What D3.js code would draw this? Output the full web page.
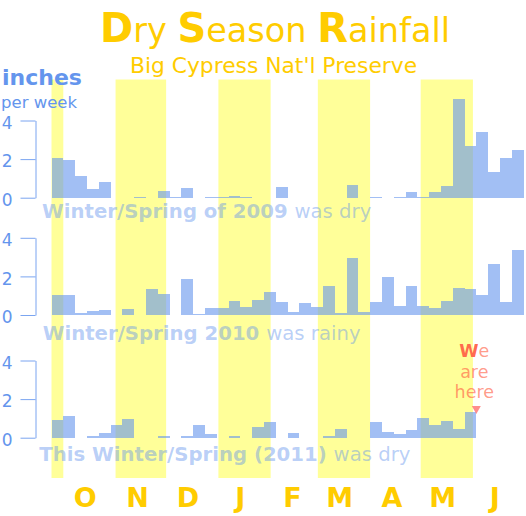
<!DOCTYPE html>
<html>
<head>
<meta charset="utf-8">
<script src="https://cdn.jsdelivr.net/npm/d3@7"></script>
<style>
  html, body { margin: 0; padding: 0; background: #fff; }
  svg { display: block; font-family: "DejaVu Sans", Verdana, sans-serif; }
</style>
</head>
<body>
<svg id="chart" width="526" height="516"></svg>
<script>
// ---- data ----
const weekStarts = ["09-24","10-01","10-08","10-15","10-22","10-29","11-05","11-12","11-19","11-26",
  "12-03","12-10","12-17","12-24","12-31","01-07","01-14","01-21","01-28","02-04",
  "02-11","02-18","02-25","03-04","03-11","03-18","03-25","04-01","04-08","04-15",
  "04-22","04-29","05-06","05-13","05-20","05-27","06-03","06-10","06-17","06-24"];

const rain2009 = [2.07,1.95,1.12,0.45,0.82,0,0,0.04,0,0.33,
  0.06,0.48,0,0.04,0.04,0.07,0.04,0,0,0.55,
  0,0,0,0,0,0.64,0,0.04,0,0.04,
  0.3,0.04,0.3,0.6,5.11,2.68,3.4,1.35,2.06,2.47];

const rain2010 = [1.04,1.04,0.1,0.21,0.26,0,0.31,0,1.35,1.09,
  0,1.87,0.05,0.36,0.36,0.73,0.41,0.78,1.19,0.67,
  0.16,0.62,0.41,1.5,0.1,2.95,0.16,0.67,1.97,0.47,
  1.5,0.47,0.36,0.73,1.4,1.35,1.04,2.64,0.67,3.37];

const rain2011 = [0.92,1.12,0,0.09,0.24,0.66,0.97,0,0,0.09,
  0,0.09,0.66,0.19,0,0.09,0,0.55,0.81,0,
  0.24,0,0,0.09,0.45,0,0,0.81,0.29,0.19,
  0.4,1.02,0.66,0.86,0.45,1.33];

const monthStarts = ["09-01","10-01","11-01","12-01","01-01","02-01","03-01","04-01","05-01","06-01","07-01"];
const monthLabels = ["O","N","D","J","F","M","A","M","J"];   // Oct .. Jun
const shadedMonths = ["09-01","11-01","01-01","03-01","05-01"];
const yTicks = [0, 2, 4];

const captionsBold = ["Winter/Spring of 2009", "Winter/Spring 2010", "This Winter/Spring (2011)"];
const captionsRest = ["was dry", "was rainy", "was dry"];

// ---- helpers ----
const toDate = s => {
  const m = +s.slice(0, 2);
  return d3.utcParse("%Y-%m-%d")((m >= 7 ? "2010-" : "2011-") + s);
};
const weeks = weekStarts.map(toDate);
const domainStart = weeks[0];
const domainEnd = d3.utcDay.offset(weeks[weeks.length - 1], 7);

const svg = d3.select("#chart");
const x = d3.scaleUtc().domain([domainStart, domainEnd]).range([51.5, 523.5]);

const BLUE = "cornflowerblue";
const GOLD = "#ffcc00";

// ---- month bands ----
const bandTop = 79.5, bandBottom = 478;
const bandG = svg.append("g");
shadedMonths.forEach(s => {
  const d0 = toDate(s);
  const d1 = d3.utcMonth.offset(d0, 1);
  const a = x(d3.max([d0, domainStart])), b = x(d3.min([d1, domainEnd]));
  bandG.append("rect")
    .attr("x", a).attr("y", bandTop)
    .attr("width", b - a).attr("height", bandBottom - bandTop)
    .attr("fill", "#ffff00").attr("fill-opacity", 0.4);
});

// ---- title ----
const title = svg.append("text").attr("x", 275).attr("y", 41.7)
  .attr("text-anchor", "middle").attr("fill", GOLD).style("font-size", "33.5px");
[["D", true], ["ry ", false], ["S", true], ["eason ", false], ["R", true], ["ainfall", false]].forEach(([t, b]) => {
  title.append("tspan").text(t)
    .style("font-weight", b ? "bold" : "normal")
    .style("font-size", b ? "40px" : "33.5px");
});
svg.append("text").attr("x", 273.5).attr("y", 72.7).attr("text-anchor", "middle")
  .attr("fill", GOLD).style("font-size", "21.8px").text("Big Cypress Nat'l Preserve");

// ---- unit label ----
svg.append("text").attr("x", 2).attr("y", 85).attr("fill", BLUE)
  .style("font-size", "22px").style("font-weight", "bold").text("inches");
svg.append("text").attr("x", 1).attr("y", 107.5).attr("fill", BLUE)
  .style("font-size", "16.5px").text("per week");

// ---- panels ----
const pxPerInch = 19.3;
const panels = [
  { values: rain2009, zero: 197.7, capX: 42, capY: 217.5 },
  { values: rain2010, zero: 315, capX: 42.7, capY: 340 },
  { values: rain2011, zero: 437.7, capX: 39.3, capY: 461 }
];

panels.forEach((p, i) => {
  const y = d3.scaleLinear().domain([0, 4]).range([p.zero, p.zero - 4 * pxPerInch]);

  const axis = d3.axisLeft(y).tickValues(yTicks).tickFormat(d3.format("d"))
    .tickSize(15).tickSizeOuter(0).tickPadding(8);
  const ag = svg.append("g").attr("transform", "translate(35.5,0)").call(axis);
  ag.selectAll("path, line").attr("stroke", BLUE).attr("stroke-opacity", 0.85);
  ag.selectAll("text").attr("fill", BLUE).attr("dy", "0.45em")
    .style("font-size", "17px").style("font-family", "'DejaVu Sans', sans-serif");

  const data = p.values.map((v, k) => ({ d: weeks[k], v }));
  svg.append("g").selectAll("rect").data(data.filter(e => e.v > 0)).join("rect")
    .attr("x", e => x(e.d))
    .attr("width", e => x(d3.utcDay.offset(e.d, 7)) - x(e.d))
    .attr("y", e => y(e.v))
    .attr("height", e => Math.max(1, y(0) - y(e.v)))
    .attr("fill", BLUE).attr("fill-opacity", 0.6)
    .attr("shape-rendering", "crispEdges");

  const cap = svg.append("text").attr("x", p.capX).attr("y", p.capY)
    .attr("fill", BLUE).attr("fill-opacity", 0.45).style("font-size", "19.7px");
  cap.append("tspan").style("font-weight", "bold").text(captionsBold[i] + " ");
  cap.append("tspan").text(captionsRest[i]);

  if (i === 2) {
    const last = data[data.length - 1];
    const tx = x(d3.utcDay.offset(last.d, 7));
    const ty = y(last.v);
    svg.append("path")
      .attr("d", `M${tx - 4.5},${ty - 6} L${tx + 4.5},${ty - 6} L${tx},${ty + 2} Z`)
      .attr("fill", "#ff7070").attr("fill-opacity", 0.8);
    const note = svg.append("text").attr("text-anchor", "middle")
      .attr("fill", "tomato").style("font-size", "17.5px");
    const l1 = note.append("tspan").attr("x", 474.3).attr("y", 356.5);
    l1.append("tspan").style("font-weight", "bold").attr("fill-opacity", 0.95).text("W");
    l1.append("tspan").attr("fill-opacity", 0.65).text("e");
    note.append("tspan").attr("x", 474.3).attr("y", 377.5).attr("fill-opacity", 0.65).text("are");
    note.append("tspan").attr("x", 474.3).attr("y", 398.3).attr("fill-opacity", 0.65).text("here");
  }
});

// ---- month letters ----
const labelDates = monthStarts.slice(1, 10).map(s => d3.utcDay.offset(toDate(s), 13));
svg.append("g").selectAll("text").data(monthLabels).join("text")
  .attr("x", (d, i) => x(labelDates[i]))
  .attr("y", 506.5)
  .attr("text-anchor", "middle")
  .attr("fill", GOLD)
  .style("font-weight", "bold").style("font-size", "27px")
  .text(d => d);
</script>
</body>
</html>
